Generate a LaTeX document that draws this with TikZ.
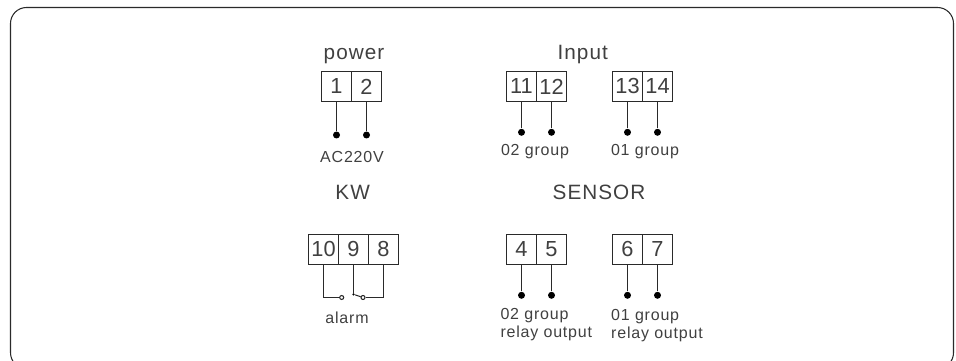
\documentclass[tikz,border=0pt]{standalone}
\usepackage{fontspec}
\setmainfont{Liberation Sans}
\newfontfamily\labelfont[LetterSpace = 5]{Liberation Sans}
\definecolor{wiregray}{HTML}{2A2A2A}
\definecolor{textgray}{HTML}{404040}
\begin{document}
\begin{tikzpicture}[x = 0.02cm, y = -0.02cm, line width = 0.6pt, color = wiregray,
    termbox/.style = {shape = rectangle, draw, minimum size = 0.6cm, outer sep = 0pt, inner sep = 0pt,
        text = textgray, font = \fontsize{12.4}{13}\selectfont},
    leaddot/.style = {shape = circle, fill = black, inner sep = 0pt, minimum size = 0.14cm},
    contact/.style = {shape = circle, draw, fill = white, inner sep = 0pt, minimum size = 0.08cm},
    title/.style = {anchor = base, inner sep = 0pt, text = textgray, font = \labelfont\fontsize{11.8}{12}\selectfont},
    note/.style = {anchor = base, inner sep = 0pt, text = textgray, font = \labelfont\fontsize{9.1}{10}\selectfont},
    notel/.style = {note, anchor = base west}]
        \clip (0,0) rectangle (956,361);
        \draw[rounded corners = 0.32cm] (10.5,7.5) rectangle (953.5,368.7);
        % power
        \node[title] (tpower) at (354,59.5) {power};
        \node[termbox] (b1) at (336.5,86.5) {1};
        \node[termbox] (b2) at (366.5,86.5) {2};
        \node[leaddot] (d1) at (336.5,135) {};
        \node[leaddot] (d2) at (366.5,135) {};
        \draw (b1.south) -- (d1);
        \draw (b2.south) -- (d2);
        \node[note] (nac) at (352,163) {AC220V};
        % input
        \node[title] (tinput) at (582.7,59.5) {Input};
        \node[termbox] (b11) at (521.5,86.5) {11};
        \node[termbox] (b12) at (551.5,86.5) {12};
        \node[termbox] (b13) at (627.5,86.5) {13};
        \node[termbox] (b14) at (657.5,86.5) {14};
        \node[leaddot] (d11) at (521.5,132.3) {};
        \node[leaddot] (d12) at (551.5,132.3) {};
        \node[leaddot] (d13) at (627.5,132.3) {};
        \node[leaddot] (d14) at (657.5,132.3) {};
        \draw (b11.south) -- (d11);
        \draw (b12.south) -- (d12);
        \draw (b13.south) -- (d13);
        \draw (b14.south) -- (d14);
        \node[note] (nin2) at (535,155.5) {02 group};
        \node[note] (nin1) at (645,155.5) {01 group};
        % KW
        \node[title] (tkw) at (352.7,199.5) {KW};
        \node[termbox] (b10) at (323.5,249.5) {10};
        \node[termbox] (b9) at (353.5,249.5) {9};
        \node[termbox] (b8) at (383.5,249.5) {8};
        \node[contact] (s1) at (341.7,297.5) {};
        \node[shape = circle, fill = black, inner sep = 0pt, minimum size = 0.05cm] (s2) at (353.5,294.3) {};
        \node[contact] (s3) at (363,297.5) {};
        \draw (b10.south) |- (s1);
        \draw (b9.south) -- (s2);
        \draw (s2) -- (s3);
        \draw (s3) -| (b8.south);
        \node[note] (nalarm) at (347,323) {alarm};
        % sensor
        \node[title] (tsensor) at (599,199.5) {SENSOR};
        \node[termbox] (b4) at (521.5,249.5) {4};
        \node[termbox] (b5) at (551.5,249.5) {5};
        \node[termbox] (b6) at (627.5,249.5) {6};
        \node[termbox] (b7) at (657.5,249.5) {7};
        \node[leaddot] (d4) at (521.5,295.3) {};
        \node[leaddot] (d5) at (551.5,295.3) {};
        \node[leaddot] (d6) at (627.5,295.3) {};
        \node[leaddot] (d7) at (657.5,295.3) {};
        \draw (b4.south) -- (d4);
        \draw (b5.south) -- (d5);
        \draw (b6.south) -- (d6);
        \draw (b7.south) -- (d7);
        \node[notel] (ns2) at (500,319) {02 group};
        \node[notel] (nr2) at (500,337.5) {relay output};
        \node[notel] (ns1) at (610.7,320) {01 group};
        \node[notel] (nr1) at (610.7,338) {relay output};
\end{tikzpicture}
\end{document}
